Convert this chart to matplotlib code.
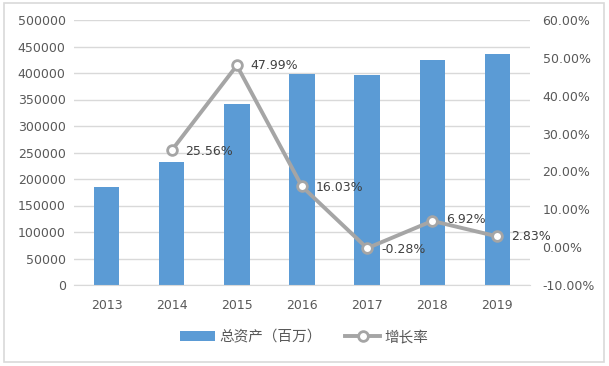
import matplotlib
matplotlib.use("Agg")
import matplotlib.pyplot as plt
from matplotlib.patches import Rectangle
from matplotlib.ticker import FuncFormatter
import numpy as np

plt.rcParams['font.family'] = ['Noto Sans CJK SC', 'DejaVu Sans']

years = ['2013', '2014', '2015', '2016', '2017', '2018', '2019']
total_assets = [184300, 231400, 342450, 397350, 396240, 423660, 435650]
growth_years = ['2014', '2015', '2016', '2017', '2018', '2019']
growth_rate = [25.56, 47.99, 16.03, -0.28, 6.92, 2.83]
growth_labels = ['25.56%', '47.99%', '16.03%', '-0.28%', '6.92%', '2.83%']
bar_name = '总资产（百万）'
line_name = '增长率'

fig = plt.figure(figsize=(6.09, 3.66), dpi=100)
fig.patch.set_facecolor('white')
fig.patches.append(Rectangle((4/609, 4/366), 600/609, 359/366, transform=fig.transFigure,
                             fill=False, edgecolor='#D9D9D9', linewidth=1.2))

ax = fig.add_axes([74/609, 81/366, 456/609, 265/366])
x = np.arange(len(years))
bars = ax.bar(x, total_assets, width=0.39, color='#5B9BD5', zorder=2, label=bar_name)
ax.set_xlim(-0.5, len(years) - 0.5)
ax.set_ylim(0, 500000)
ax.set_yticks(np.arange(0, 500001, 50000))
ax.yaxis.set_major_formatter(FuncFormatter(lambda v, p: f'{int(v)}'))
ax.grid(axis='y', color='#D9D9D9', linewidth=1, zorder=0)
ax.set_axisbelow(True)
for s in ['top', 'right', 'left']:
    ax.spines[s].set_visible(False)
ax.spines['bottom'].set_color('#D9D9D9')
ax.set_xticks(x)
ax.set_xticklabels(years)
ax.tick_params(axis='both', length=0, labelsize=9, labelcolor='#595959')
ax.tick_params(axis='x', pad=10)
ax.tick_params(axis='y', pad=6)
for lab in ax.get_xticklabels() + ax.get_yticklabels():
    lab.set_family(['DejaVu Sans'])

ax2 = ax.twinx()
gx = [years.index(y) for y in growth_years]
line, = ax2.plot(gx, growth_rate, color='#A5A5A5', linewidth=2.8, marker='o', markersize=7,
                 markerfacecolor='white', markeredgecolor='#A5A5A5', markeredgewidth=2,
                 zorder=3, label=line_name)
ax2.set_ylim(-10, 60)
ax2.set_yticks(np.arange(-10, 61, 10))
ax2.yaxis.set_major_formatter(FuncFormatter(lambda v, p: f'{v:.2f}%'))
for s in ['top', 'right', 'left', 'bottom']:
    ax2.spines[s].set_visible(False)
ax2.tick_params(axis='y', length=0, labelsize=9, labelcolor='#595959', pad=9)
for lab in ax2.get_yticklabels():
    lab.set_family(['DejaVu Sans'])

offsets = [(10, -1), (10, 0), (10, -1), (10, -1), (10, 1), (10, 0)]
for xi, yi, t, off in zip(gx, growth_rate, growth_labels, offsets):
    ax2.annotate(t, (xi, yi), xytext=off, textcoords='offset points', ha='left', va='center',
                 fontsize=9, color='#404040', family=['DejaVu Sans'])

fig.legend(handles=[bars, line], labels=[bar_name, line_name], loc='center',
           bbox_to_anchor=(0.5, 29/366), ncol=2, frameon=False, fontsize=10.5,
           labelcolor='#595959', handlelength=2.4, columnspacing=1.6, handletextpad=0.3)

fig.savefig('out.png', dpi=100)
